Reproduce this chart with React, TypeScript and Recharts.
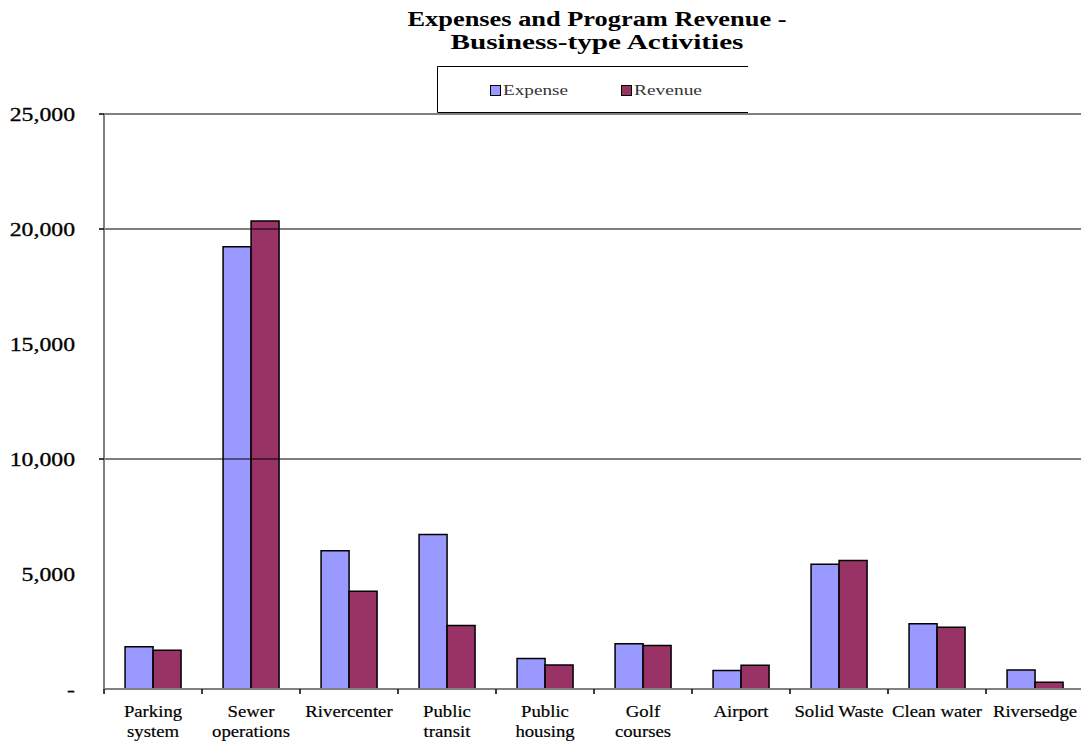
import React from 'react';
import { BarChart, Bar, XAxis, YAxis, ReferenceLine } from 'recharts';

// values in thousands of dollars
const categories = [
  'Parking\nsystem',
  'Sewer\noperations',
  'Rivercenter',
  'Public\ntransit',
  'Public\nhousing',
  'Golf\ncourses',
  'Airport',
  'Solid Waste',
  'Clean water',
  'Riversedge',
];
const expense = [1840, 19230, 6010, 6720, 1330, 1970, 800, 5420, 2840, 830];
const revenue = [1680, 20350, 4250, 2760, 1040, 1890, 1030, 5590, 2690, 290];
const yTicks = [0, 5000, 10000, 15000, 20000, 25000];
const gridValues = [10000, 20000];
const markedTicks = [10000, 20000, 25000];

const EXPENSE_COLOR = '#9999FF';
const REVENUE_COLOR = '#993366';
const FONT = '"Times New Roman", "Liberation Serif", serif';

const data = categories.map((name, i) => ({
  name,
  Expense: expense[i],
  Revenue: revenue[i],
}));

function YTick(props: any) {
  const { x, y, payload } = props;
  const v = payload.value as number;
  const label = v === 0 ? '-' : v.toLocaleString('en-US');
  return (
    <g>
      {markedTicks.includes(v) && (
        <line x1={x - 5} x2={x} y1={y} y2={y} stroke="#000" strokeWidth={1.5} />
      )}
      <text
        transform={`translate(${x - 29},${y}) scale(1.25,1)`}
        textAnchor="end"
        dy="0.35em"
        fontFamily={FONT}
        fontSize={19}
        fill="#000"
        stroke="#000"
        strokeWidth={0.3}
      >
        {label}
      </text>
    </g>
  );
}

function XTick(props: any) {
  const { x, y, payload, index, visibleTicksCount } = props;
  const half = payload.offset ?? 49;
  const lines = String(payload.value).split('\n');
  return (
    <g>
      <line x1={x - half} x2={x - half} y1={y} y2={y + 5} stroke="#000" strokeWidth={1.5} />
      {index === visibleTicksCount - 1 && (
        <line x1={x + half} x2={x + half} y1={y} y2={y + 5} stroke="#000" strokeWidth={1.5} />
      )}
      {lines.map((ln, i) => (
        <text
          key={i}
          transform={`translate(${x},${y + 28 + i * 20}) scale(1.07,1)`}
          textAnchor="middle"
          fontFamily={FONT}
          fontSize={17.5}
          fill="#000"
          stroke="#000"
          strokeWidth={0.2}
        >
          {ln}
        </text>
      ))}
    </g>
  );
}

export default function App() {
  return (
    <div
      style={{
        position: 'absolute',
        left: 0,
        top: 0,
        width: 1081,
        height: 745,
        overflow: 'hidden',
        background: '#fff',
      }}
    >
      <BarChart
        width={1090}
        height={745}
        data={data}
        margin={{ top: 114, right: 6, bottom: 0, left: 0 }}
        barCategoryGap="21.5%"
        barGap={0}
      >
        <XAxis
          dataKey="name"
          interval={0}
          height={56}
          tickLine={false}
          tickSize={0}
          tickMargin={0}
          axisLine={{ stroke: '#808080', strokeWidth: 2 }}
          tick={<XTick />}
        />
        <YAxis
          width={104}
          domain={[0, 25000]}
          ticks={yTicks}
          interval={0}
          tickLine={false}
          tickSize={0}
          tickMargin={0}
          axisLine={{ stroke: '#808080', strokeWidth: 2 }}
          tick={<YTick />}
        />
        <ReferenceLine y={25000} stroke="#808080" strokeWidth={2} />
        {gridValues.map(v => (
          <ReferenceLine key={v} y={v} stroke="#000" strokeWidth={1.2} />
        ))}
        <Bar dataKey="Expense" fill={EXPENSE_COLOR} stroke="#000" strokeWidth={1.5} isAnimationActive={false} />
        <Bar dataKey="Revenue" fill={REVENUE_COLOR} stroke="#000" strokeWidth={1.5} isAnimationActive={false} />
      </BarChart>

      {/* title and legend box, drawn like the spreadsheet export */}
      <svg
        width={1081}
        height={114}
        style={{ position: 'absolute', left: 0, top: 0, pointerEvents: 'none' }}
      >
        <text x={597} y={26} textAnchor="middle" fontFamily={FONT} fontWeight="bold" fontSize={20}
          textLength={379} lengthAdjust="spacingAndGlyphs">
          Expenses and Program Revenue -
        </text>
        <text x={597} y={49} textAnchor="middle" fontFamily={FONT} fontWeight="bold" fontSize={20}
          textLength={293} lengthAdjust="spacingAndGlyphs">
          Business-type Activities
        </text>
        <rect x={437} y={66.5} width={312} height={46} fill="#fff" />
        <path d="M748,66.5 H437.5 V112.5 H748" fill="none" stroke="#000" strokeWidth={1} />
        <rect x={490.5} y={85.5} width={10} height={10} fill={EXPENSE_COLOR} stroke="#000" strokeWidth={1} />
        <text x={503} y={95} fontFamily={FONT} fontSize={15.5} fill="#333"
          textLength={65} lengthAdjust="spacingAndGlyphs">
          Expense
        </text>
        <rect x={621.5} y={85.5} width={10} height={10} fill={REVENUE_COLOR} stroke="#000" strokeWidth={1} />
        <text x={634} y={95} fontFamily={FONT} fontSize={15.5} fill="#333"
          textLength={68} lengthAdjust="spacingAndGlyphs">
          Revenue
        </text>
      </svg>
    </div>
  );
}
